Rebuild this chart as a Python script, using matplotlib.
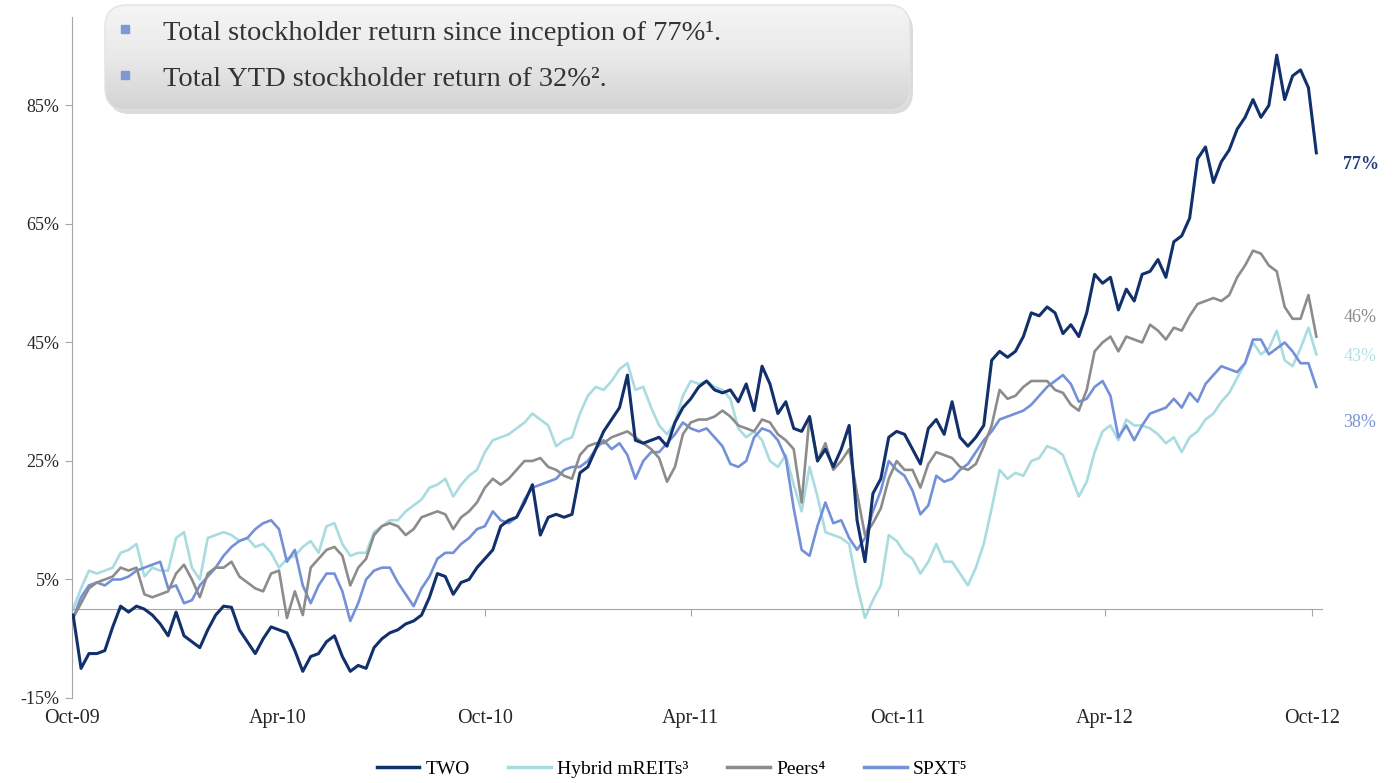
import matplotlib
matplotlib.use('Agg')
import matplotlib.pyplot as plt
import matplotlib.transforms as mtransforms
from matplotlib.patches import FancyBboxPatch
from matplotlib.colors import LinearSegmentedColormap
from matplotlib.lines import Line2D
import numpy as np
import pandas as pd

plt.rcParams['font.family'] = ['Liberation Serif', 'DejaVu Serif']

# weekly total return (%)
two = [-1, -10, -7.5, -7.5, -7, -3, 0.5, -0.5, 0.5, 0,
       -1, -2.5, -4.5, -0.5, -4.5, -5.5, -6.5, -3.5, -1, 0.5,
       0.3, -3.5, -5.5, -7.5, -5, -3, -3.5, -4, -7, -10.5,
       -8, -7.5, -5.5, -4.5, -8, -10.5, -9.5, -10, -6.5, -5,
       -4, -3.5, -2.5, -2, -1, 2, 6, 5.5, 2.5, 4.5,
       5, 7, 8.5, 10, 14, 15, 15.5, 18, 21, 12.5,
       15.5, 16, 15.5, 16, 23, 24, 27, 30, 32, 34,
       39.5, 28.5, 28, 28.5, 29, 27.5, 31.5, 34, 35.5, 37.5,
       38.5, 37, 36.5, 37, 35, 38, 33.5, 41, 38, 33,
       35, 30.5, 30, 32.5, 25, 27, 24, 27, 31, 15,
       8, 19.5, 22, 29, 30, 29.5, 27, 24.5, 30.5, 32,
       29.5, 35, 29, 27.5, 29, 31, 42, 43.5, 42.5, 43.5,
       46, 50, 49.5, 51, 50, 46.5, 48, 46, 50, 56.5,
       55, 56, 50.5, 54, 52, 56.5, 57, 59, 56, 62,
       63, 66, 76, 78, 72, 75.5, 77.5, 81, 83, 86,
       83, 85, 93.5, 86, 90, 91, 88, 77]
hybrid = [0, 3.5, 6.5, 6, 6.5, 7, 9.5, 10, 11, 5.5,
          7, 6.5, 6.5, 12, 13, 7, 5, 12, 12.5, 13,
          12.5, 11.5, 12, 10.5, 11, 9.5, 7, 8.5, 9, 10.5,
          11.5, 9.5, 14, 14.5, 11, 9, 9.5, 9.5, 13, 14,
          15, 15, 16.5, 17.5, 18.5, 20.5, 21, 22, 19, 21,
          22.5, 23.5, 26.5, 28.5, 29, 29.5, 30.5, 31.5, 33, 32,
          31, 27.5, 28.5, 29, 33, 36, 37.5, 37, 38.5, 40.5,
          41.5, 37, 37.5, 34, 31, 29.5, 31.5, 36, 38.5, 38,
          38.5, 37.5, 37, 35.5, 30.5, 29, 30, 28.5, 25, 24,
          26, 21, 16.5, 24, 19, 13, 12.5, 12, 11, 4,
          -1.5, 1.5, 4, 12.5, 11.5, 9.5, 8.5, 6, 8, 11,
          8, 8, 6, 4, 7, 11, 17, 23.5, 22, 23,
          22.5, 25, 25.5, 27.5, 27, 26, 22.5, 19, 21.5, 26.5,
          30, 31, 28.5, 32, 31, 31, 30.5, 29.5, 28, 29,
          26.5, 29, 30, 32, 33, 35, 36.5, 39, 41.5, 45,
          43, 44, 47, 42, 41, 44, 47.5, 43]
peers = [-1.5, 1, 3.5, 4.5, 5, 5.5, 7, 6.5, 7, 2.5,
         2, 2.5, 3, 6, 7.5, 5, 2, 6, 7, 7,
         8, 5.5, 4.5, 3.5, 3, 6, 6.5, -1.5, 3, -1,
         7, 8.5, 10, 10.5, 9, 4, 7, 8.5, 12.5, 14,
         14.5, 14, 12.5, 13.5, 15.5, 16, 16.5, 16, 13.5, 15.5,
         16.5, 18, 20.5, 22, 21, 22, 23.5, 25, 25, 25.5,
         24, 23.5, 22.5, 22, 26, 27.5, 28, 28, 29, 29.5,
         30, 29, 28, 27, 25.5, 21.5, 24, 29.5, 31.5, 32,
         32, 32.5, 33.5, 32.5, 31, 30.5, 30, 32, 31.5, 29.5,
         28.5, 27, 18, 32.5, 25, 28, 23.5, 25, 27, 19.5,
         12.5, 14.5, 17, 22, 25, 23.5, 23.5, 20.5, 24.5, 26.5,
         26, 25.5, 24, 23.5, 24.5, 27.5, 31, 37, 35.5, 36,
         37.5, 38.5, 38.5, 38.5, 37, 36.5, 34.5, 33.5, 37, 43.5,
         45, 46, 43.5, 46, 45.5, 45, 48, 47, 45.5, 47.5,
         47, 49.5, 51.5, 52, 52.5, 52, 53, 56, 58, 60.5,
         60, 58, 57, 51, 49, 49, 53, 46]
spxt = [-1.5, 2, 4, 4.5, 4, 5, 5, 5.5, 6.5, 7,
        7.5, 8, 3.5, 4, 1, 1.5, 4, 5.5, 7, 9,
        10.5, 11.5, 12, 13.5, 14.5, 15, 13.5, 8, 10, 4,
        1, 4, 6, 6, 3, -2, 1, 5, 6.5, 7,
        7, 4.5, 2.5, 0.5, 3.5, 5.5, 8.5, 9.5, 9.5, 11,
        12, 13.5, 14, 16.5, 15, 14.5, 15.5, 18.5, 20.5, 21,
        21.5, 22, 23.5, 24, 24, 25, 27, 28.5, 27, 28,
        26, 22, 25, 26.5, 26.5, 28, 29.5, 31.5, 30.5, 30,
        30.5, 29, 27.5, 24.5, 24, 25, 29, 30.5, 30, 28.5,
        25.5, 17, 10, 9, 14, 18, 14.5, 15, 12, 10,
        12, 16.5, 20, 25, 23.5, 22.5, 20, 16, 17.5, 22.5,
        21.5, 22, 23.5, 24.5, 26.5, 28.5, 30, 32, 32.5, 33,
        33.5, 34.5, 36, 37.5, 38.5, 39.5, 38, 35, 35.5, 37.5,
        38.5, 36, 29, 31, 28.5, 31, 33, 33.5, 34, 35.5,
        34, 36.5, 35, 38, 39.5, 41, 40.5, 40, 41.5, 45.5,
        45.5, 43, 44, 45, 43.5, 41.5, 41.5, 37.5]
dates = pd.date_range('2009-10-02', periods=len(two), freq='7D')

series_names = ['TWO', 'Hybrid mREITs\u00b3', 'Peers\u2074', 'SPXT\u2075']
end_labels = ['77%', '43%', '46%', '38%']
end_label_y = [75, 42.6, 49.2, 31.5]
tick_dates = pd.to_datetime(['2009-10-01', '2010-04-01', '2010-10-01', '2011-04-01',
                             '2011-10-01', '2012-04-01', '2012-10-01'])
tick_labels = ['Oct-09', 'Apr-10', 'Oct-10', 'Apr-11', 'Oct-11', 'Apr-12', 'Oct-12']
yticks = [-15, 5, 25, 45, 65, 85]
bullets = ['Total stockholder return since inception of 77%\u00b9.',
           'Total YTD stockholder return of 32%\u00b2.']

colors = {'TWO': '#12306b', 'hyb': '#a9dce0', 'peers': '#8c8c8c', 'spxt': '#7390d8'}
label_colors = ['#1f3d7a', '#b3e0e3', '#8c8c8c', '#7b93d6']
axis_grey = '#a6a6a6'

fig = plt.figure(figsize=(14, 7.83), dpi=100)
ax = fig.add_axes([72 / 1400, 85 / 783, 1250 / 1400, 681.4 / 783])

ax.plot(dates, hybrid, color=colors['hyb'], lw=1.9, zorder=2)
ax.plot(dates, spxt, color=colors['spxt'], lw=1.9, zorder=3)
ax.plot(dates, peers, color=colors['peers'], lw=1.9, zorder=3)
ax.plot(dates, two, color=colors['TWO'], lw=2.2, zorder=4)

ax.set_xlim(pd.Timestamp('2009-10-01'), pd.Timestamp('2012-10-10'))
ax.set_ylim(-15, 100)

for s in ('top', 'right'):
    ax.spines[s].set_visible(False)
ax.spines['left'].set_color(axis_grey)
ax.spines['bottom'].set_color(axis_grey)
ax.spines['bottom'].set_position(('data', 0))

ax.set_yticks(yticks)
ax.set_yticklabels([f'{v}%' for v in yticks])
ax.tick_params(axis='y', length=5, color=axis_grey, labelsize=13, pad=4,
               labelcolor='#262626')
ax.set_xticks(tick_dates)
ax.tick_params(axis='x', length=5, color=axis_grey, labelbottom=False)

xt = mtransforms.blended_transform_factory(ax.transData, ax.transAxes)
for d, lab in zip(tick_dates, tick_labels):
    ax.text(d, -0.03, lab, transform=xt, ha='center', va='center',
            fontsize=14.5, color='#262626')

yt = mtransforms.blended_transform_factory(ax.transAxes, ax.transData)
for lab, yv, c in zip(end_labels, end_label_y, label_colors):
    ax.text(1.017, yv, lab, transform=yt, ha='left', va='center', fontsize=13,
            color=c, fontweight='bold' if lab == '77%' else 'normal', clip_on=False)

handles = [Line2D([], [], color=colors['TWO'], lw=2.5),
           Line2D([], [], color=colors['hyb'], lw=2.5),
           Line2D([], [], color=colors['peers'], lw=2.5),
           Line2D([], [], color=colors['spxt'], lw=2.5)]
fig.legend(handles, series_names, loc='center', bbox_to_anchor=(672 / 1400, 1 - 769 / 783),
           ncol=4, frameon=False, fontsize=14, handlelength=2.2, handletextpad=0.3,
           columnspacing=2.0)

# callout box at the top
bx = fig.add_axes([100 / 1400, 1 - 118 / 783, 818 / 1400, 118 / 783])
bx.set_xlim(0, 818)
bx.set_ylim(0, 118)
bx.axis('off')
shadow = FancyBboxPatch((8, 4), 805, 105, boxstyle='round,pad=0,rounding_size=22',
                        facecolor='#b0b0b0', edgecolor='none', alpha=0.45, zorder=1)
bx.add_patch(shadow)
box = FancyBboxPatch((5, 8), 805, 105, boxstyle='round,pad=0,rounding_size=22',
                     facecolor='none', edgecolor='#e2e2e2', lw=1, zorder=3)
bx.add_patch(box)
grad = np.linspace(0, 1, 256).reshape(-1, 1)
cmap = LinearSegmentedColormap.from_list('boxgrad', ['#d3d3d3', '#e9e9e9', '#f5f5f5'])
im = bx.imshow(grad, extent=[5, 810, 8, 113], origin='lower', aspect='auto',
               cmap=cmap, zorder=2)
im.set_clip_path(box)
for yy, txt in zip([85, 39], bullets):
    bx.plot([25], [yy + 4], marker='s', markersize=6, color='#8097d4', zorder=4)
    bx.text(63, yy, txt, fontsize=20.5, color='#333333', va='center', ha='left', zorder=4)

fig.savefig('out.png', dpi=100)
